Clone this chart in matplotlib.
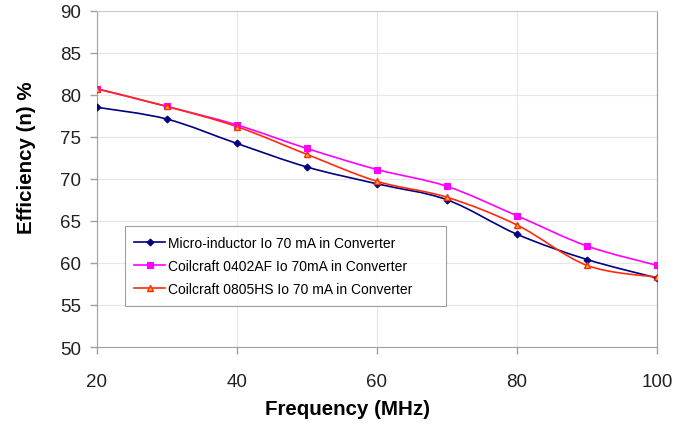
import numpy as np
import matplotlib.pyplot as plt
from matplotlib.path import Path
from matplotlib.patches import PathPatch

plt.rcParams['font.family'] = ['Liberation Sans', 'DejaVu Sans']

freq = [20, 30, 40, 50, 60, 70, 80, 90, 100]
micro = [78.5, 77.1, 74.2, 71.4, 69.4, 67.5, 63.4, 60.4, 58.2]
cc0402 = [80.7, 78.6, 76.4, 73.6, 71.1, 69.1, 65.6, 62.0, 59.7]
cc0805 = [80.7, 78.6, 76.2, 72.9, 69.7, 67.8, 64.5, 59.7, 58.3]

labels = ['Micro-inductor Io 70 mA in Converter',
          'Coilcraft 0402AF Io 70mA in Converter',
          'Coilcraft 0805HS Io 70 mA in Converter']


def smooth_path(x, y):
    # Excel-style smoothed line: cubic bezier through each point
    p = np.column_stack([x, y]).astype(float)
    p_ext = np.vstack([p[0], p, p[-1]])
    verts = [p[0]]
    codes = [Path.MOVETO]
    for i in range(len(p) - 1):
        p0, p1, p2, p3 = p_ext[i], p_ext[i + 1], p_ext[i + 2], p_ext[i + 3]
        c1 = p1 + (p2 - p0) / 6.0
        c2 = p2 - (p3 - p1) / 6.0
        verts += [c1, c2, p2]
        codes += [Path.CURVE4] * 3
    return Path(verts, codes)


fig = plt.figure(figsize=(6.91, 4.27), dpi=100)
ax = fig.add_axes([0.140, 0.185, 0.811, 0.788])

styles = [
    dict(color='#000080', marker='D', ms=3.5, mfc='#000080', mec='#000080'),
    dict(color='#ff00ff', marker='s', ms=4.5, mfc='#ff00ff', mec='#ff00ff'),
    dict(color='#ff2a10', marker='^', ms=5, mfc='#ffb000', mec='#ff2a10', mew=1),
]

for ys, lab, st in zip([micro, cc0402, cc0805], labels, styles):
    patch = PathPatch(smooth_path(freq, ys), fill=False, edgecolor=st['color'],
                      lw=1.2, zorder=3)
    ax.add_patch(patch)
    ax.plot(freq, ys, linestyle='none', marker=st['marker'], ms=st['ms'],
            mfc=st['mfc'], mec=st['mec'], mew=st.get('mew', 0.8), zorder=4)
    ax.plot([], [], color=st['color'], lw=1.2, marker=st['marker'],
            ms=st['ms'], mfc=st['mfc'], mec=st['mec'], mew=st.get('mew', 0.8),
            label=lab)

ax.set_xlim(20, 100)
ax.set_ylim(50, 90)
ax.set_xticks([20, 40, 60, 80, 100])
ax.set_yticks(np.arange(50, 91, 5))
ax.grid(True, color='#e6e6e6', lw=0.8)
ax.set_axisbelow(True)
for s in ax.spines.values():
    s.set_color('#a0a0a0')
ax.spines['top'].set_color('#c8c8c8')
ax.tick_params(colors='#a0a0a0', labelcolor='#222222', labelsize=13.5,
               length=5, width=1)
ax.tick_params(axis='x', pad=14)
ax.tick_params(axis='y', pad=6)

ax.set_xlabel('Frequency (MHz)', fontsize=14.8, fontweight='bold')
ax.set_ylabel('Efficiency (n) %', fontsize=14.8, fontweight='bold')
ax.xaxis.set_label_coords(0.447, -0.155)
ax.yaxis.set_label_coords(-0.108, 0.565)

leg = ax.legend(loc='lower left', bbox_to_anchor=(0.05, 0.122, 0.5725, 0.2),
                mode='expand', fontsize=10,
                frameon=True, fancybox=False, edgecolor='#888888',
                borderaxespad=0, handlelength=2.2, handletextpad=0.2,
                borderpad=0.7, labelspacing=0.65)
leg.get_frame().set_linewidth(0.8)

fig.savefig('out.png', dpi=100)
